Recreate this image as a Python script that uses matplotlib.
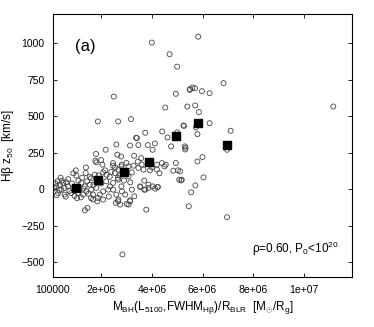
import numpy as np
import matplotlib
matplotlib.use("Agg")
import matplotlib.pyplot as plt

plt.rcParams['font.family'] = ['Liberation Sans', 'DejaVu Sans']
plt.rcParams['mathtext.fontset'] = 'custom'
plt.rcParams['mathtext.rm'] = 'Liberation Sans'
plt.rcParams['mathtext.it'] = 'Liberation Sans:italic'

# individual objects (x in units of 1e6)
obj_x = [4.0, 4.7, 5.0, 5.5, 2.5, 4.95, 5.4, 4.53, 1.87, 2.67, 3.18, 5.27, 3.74, 4.41, 4.62, 5.0,
         3.38, 2.6, 2.18, 3.14, 3.47, 3.84, 4.12, 4.76, 5.33, 1.80, 2.64, 2.79, 4.03, 1.77, 4.95,
         5.83, 6.83, 5.6, 5.7, 5.5, 5.98, 6.28, 5.71, 5.86, 11.16, 5.25, 6.28, 5.74, 5.80, 7.11,
         6.97, 5.3, 5.32, 6.0, 5.80,
         5.12, 5.18, 6.04, 5.72, 5.55, 5.46, 6.97,
         2.84, 3.78, 1.36, 1.46, 1.85, 1.87, 2.58, 3.01, 3.14, 3.31, 4.85, 4.55, 4.22, 4.13, 3.87,
         3.70, 3.54,
         1.81, 2.05, 2.47, 2.47, 2.8, 1.02, 1.39, 1.55, 1.75, 2.08, 2.21, 2.34, 2.54, 2.74, 0.5,
         0.37, 0.23, 0.63, 0.69, 0.43, 0.30, 0.56, 0.82, 1.22, 1.35, 1.55, 1.42, 1.61, 1.81, 1.68,
         1.95, 2.08, 2.28, 2.47, 2.67, 2.8, 2.47, 2.6, 2.08, 2.67, 1.68, 1.09, 1.29,
         3.41, 3.58, 4.2, 4.4, 4.5, 2.81, 3.08, 3.28, 3.47, 3.67, 3.93, 4.2, 2.68, 3.21, 5.03, 5.08,
         5.16, 3.08, 3.15, 2.66, 3.54, 3.74, 3.87, 4.03, 4.24, 3.21, 2.82, 2.95, 3.14, 3.08, 2.68,
         2.75,
         0.2, 0.28, 0.35, 0.45, 0.55, 0.6, 0.7, 0.75, 0.85, 0.9, 0.95, 1.1, 1.15, 1.25, 1.3, 1.45,
         1.5, 1.6, 1.7, 1.9, 2.0, 2.15, 2.2, 2.35, 2.4, 2.55, 2.9, 3.0, 3.3, 3.45, 3.6, 3.7, 4.0,
         4.3, 0.15, 0.25, 0.4, 1.05, 1.6, 2.3, 0.9, 1.2, 2.0, 1.4, 1.0]
obj_y = [1005, 925, 840, 686, 635, 654, 567, 560, 465, 465, 481, 435, 387, 396, 355, 390,
         353, 307, 271, 300, 303, 303, 314, 294, 285, 242, 237, 225, 271, 196, 180,
         1045, 727, 697, 692, 681, 672, 658, 574, 529, 567, 437, 453, 424, 378, 401,
         271, 294, 273, 221, 191,
         123, 66, 82, 27, -20, -116, -191,
         -446, -139, -143, -127, -82, -59, -93, -100, -75, -48, 128, 169, 16, 5, 32,
         -2, 16,
         185, 169, 180, 162, 157, 94, 112, 85, 100, 116, 100, 85, 112, 94, 44,
         32, 20, 48, 20, -2, -25, -36, -25, 44, 20, 32, -14, -2, 10, -36,
         -36, -14, -2, 44, 66, 20, -2, -36, -70, -82, -70, -25, -36,
         351, 214, 169, 180, 157, 169, 157, 162, 146, 135, 130, 135, 135, 116, 130, 66,
         61, 89, 48, 78, 20, -2, 10, 20, 16, -2, -14, -36, -82, -104, -70,
         -104,
         40, 55, -5, 60, 10, -50, 70, -10, 40, 5, -45, 60, -5, 80, 5, 55,
         -30, 75, 30, 95, 40, 130, 55, 20, 120, 150, 60, 180, 230, 190, 170, 60, 150,
         110, 10, -40, 80, -60, -60, -50, 110, -55, 200, 150, 130]

# binned means
bin_x = [1.02, 1.88, 2.91, 3.89, 4.96, 5.84, 6.96]
bin_y = [10, 61, 116, 184, 362, 453, 303]

xticks = [1e5, 2e6, 4e6, 6e6, 8e6, 1e7]
xtick_labels = ["100000", "2e+06", "4e+06", "6e+06", "8e+06", "1e+07"]
yticks = [-500, -250, 0, 250, 500, 750, 1000]

fig = plt.figure(figsize=(3.74, 3.27), dpi=100)
ax = fig.add_axes([0.1417, 0.153, 0.7995, 0.804])

ax.scatter(np.array(obj_x) * 1e6, obj_y, s=13, facecolors='none',
           edgecolors='#444444', linewidths=0.6, zorder=2)
ax.scatter(np.array(bin_x) * 1e6, bin_y, s=30, marker='s', color='black', zorder=3)

ax.set_xlim(1e5, 1.19e7)
ax.set_ylim(-600, 1200)
ax.set_xticks(xticks)
ax.set_xticklabels(xtick_labels)
ax.set_yticks(yticks)
ax.tick_params(direction='in', length=3, width=0.6, labelsize=7.5,
               top=True, right=True, pad=6)
for s in ax.spines.values():
    s.set_linewidth(0.8)

ax.set_ylabel("Hβ z$_{50}$  [km/s]", fontsize=8.5, labelpad=4)
ax.set_xlabel(r"M$_{\rm BH}$(L$_{5100}$,FWHM$_{\mathrm{Hβ}}$)/R$_{\rm BLR}$  [M$_{\odot}$/R$_{\rm g}$]",
              fontsize=8.5, labelpad=3)

ax.text(0.075, 0.86, "(a)", transform=ax.transAxes, fontsize=12)
ax.text(0.665, 0.09, "ρ=0.60, P$_0$<10$^{20}$", transform=ax.transAxes,
        fontsize=8.5)

plt.savefig("out.png", dpi=100)
